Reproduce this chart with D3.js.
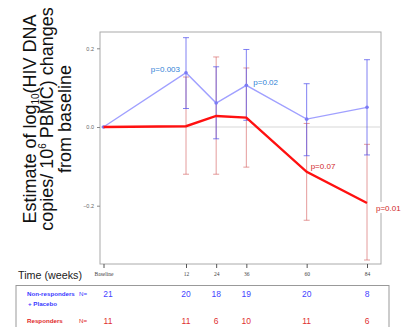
<!DOCTYPE html>
<html>
<head>
<meta charset="utf-8">
<script src="https://cdn.jsdelivr.net/npm/d3@7"></script>
<style>
  html, body { margin: 0; padding: 0; background: #fff; }
  svg { display: block; font-family: "Liberation Sans", Arial, sans-serif; }
</style>
</head>
<body>
<div id="chart"></div>
<script>
// time points (weeks), 0 = Baseline
const weeks = [0, 12, 24, 36, 60, 84];
const weekLabels = ["Baseline", "12", "24", "36", "60", "84"];

// non-responders + placebo
const blueMean = [0, 0.138, 0.061, 0.106, 0.020, 0.050];
const blueLow = [null, 0.047, -0.030, 0.017, -0.073, -0.071];
const blueHigh = [null, 0.227, 0.153, 0.197, 0.110, 0.171];
const blueN = ["21", "20", "18", "19", "20", "8"];

// responders
const redMean = [0, 0.002, 0.028, 0.024, -0.114, -0.193];
const redLow = [null, -0.120, -0.120, -0.102, -0.237, -0.338];
const redHigh = [null, 0.127, 0.178, 0.150, 0.009, -0.044];
const redN = ["11", "11", "6", "10", "11", "6"];

const yTicks = [0.2, 0.0, -0.2];

// p-value annotations
const pBlue = [{ i: 1, text: "p=0.003" }, { i: 3, text: "p=0.02" }];
const pRed = [{ i: 4, text: "p=0.07" }, { i: 5, text: "p=0.01" }];

const W = 401, H = 327;
const frame = { left: 100, right: 381, top: 32, bottom: 264 };

const svg = d3.select("#chart").append("svg")
  .attr("width", W).attr("height", H);

// baseline sits off to the left, not on the weekly scale
const x = d3.scaleLinear().domain([0, 12, 84]).range([103.5, 186, 367]);
const y = d3.scaleLinear().domain([-0.2, 0.2]).range([205.7, 48.3]);

// y axis title
const title = svg.append("text")
  .attr("transform", "translate(0,119) rotate(-90)")
  .attr("text-anchor", "middle")
  .attr("font-size", 18)
  .attr("fill", "#111");
const l1 = title.append("tspan").attr("x", 0).attr("y", 36).text("Estimate of log");
l1.append("tspan").attr("font-size", 10).attr("dy", 3).text("10");
l1.append("tspan").attr("dy", -3).text("(HIV DNA");
const l2 = title.append("tspan").attr("x", 0).attr("y", 53).text("copies/ 10");
l2.append("tspan").attr("font-size", 10).attr("dy", -7).text("6");
l2.append("tspan").attr("dy", 7).text(" PBMC) changes");
title.append("tspan").attr("x", 0).attr("y", 71).text("from baseline");

// frame
svg.append("rect")
  .attr("x", frame.left).attr("y", frame.top)
  .attr("width", frame.right - frame.left).attr("height", frame.bottom - frame.top)
  .attr("fill", "none").attr("stroke", "#aaa").attr("stroke-width", 1);

// zero reference line
svg.append("line")
  .attr("x1", frame.left).attr("x2", frame.right)
  .attr("y1", y(0)).attr("y2", y(0))
  .attr("stroke", "#d8d8d8").attr("stroke-width", 1.2);

// y axis
const yAxis = svg.append("g")
  .attr("transform", `translate(${frame.left},0)`)
  .call(d3.axisLeft(y).tickValues(yTicks).tickSize(3).tickFormat(d3.format(".1f")));
yAxis.select(".domain").remove();
yAxis.selectAll("line").attr("stroke", "#888");
yAxis.selectAll("text").attr("font-size", 5.5).attr("fill", "#666");

// x axis below the frame
const xAxis = svg.append("g")
  .attr("transform", `translate(0,${frame.bottom})`)
  .call(d3.axisBottom(x).tickValues(weeks).tickSize(4)
    .tickFormat((d, i) => weekLabels[i]));
xAxis.select(".domain").remove();
xAxis.selectAll("line").attr("stroke", "#555");
xAxis.selectAll("text").attr("font-size", 5.5).attr("fill", "#444")
  .attr("font-family", "Liberation Serif, serif").attr("dy", "0.9em");

svg.append("text")
  .attr("x", 18).attr("y", 279)
  .attr("font-size", 11.5).attr("fill", "#222")
  .attr("textLength", 64).attr("lengthAdjust", "spacingAndGlyphs")
  .text("Time (weeks)");

function errorBars(low, high, color, width, opacity) {
  const rows = weeks.map((w, i) => ({ w, lo: low[i], hi: high[i] }))
    .filter(d => d.lo != null);
  const g = svg.append("g").attr("stroke", color).attr("stroke-width", width)
    .attr("stroke-opacity", opacity);
  g.selectAll("line.v").data(rows).join("line").attr("class", "v")
    .attr("x1", d => x(d.w)).attr("x2", d => x(d.w))
    .attr("y1", d => y(d.lo)).attr("y2", d => y(d.hi));
  g.selectAll("line.lo").data(rows).join("line").attr("class", "lo")
    .attr("x1", d => x(d.w) - 3).attr("x2", d => x(d.w) + 3)
    .attr("y1", d => y(d.lo)).attr("y2", d => y(d.lo));
  g.selectAll("line.hi").data(rows).join("line").attr("class", "hi")
    .attr("x1", d => x(d.w) - 3).attr("x2", d => x(d.w) + 3)
    .attr("y1", d => y(d.hi)).attr("y2", d => y(d.hi));
}

const line = d3.line().x(d => x(d[0])).y(d => y(d[1]));

errorBars(redLow, redHigh, "#d45a5a", 1, 0.6);
errorBars(blueLow, blueHigh, "#5555ee", 1, 0.75);

svg.append("path")
  .datum(weeks.map((w, i) => [w, blueMean[i]]))
  .attr("d", line).attr("fill", "none")
  .attr("stroke", "#a0a0ff").attr("stroke-width", 1.4);

svg.selectAll("circle.blue").data(weeks).join("circle").attr("class", "blue")
  .attr("cx", (d) => x(d)).attr("cy", (d, i) => y(blueMean[i]))
  .attr("r", 1.8).attr("fill", "#7a7af5");

svg.append("path")
  .datum(weeks.map((w, i) => [w, redMean[i]]))
  .attr("d", line).attr("fill", "none")
  .attr("stroke", "#ff1010").attr("stroke-width", 2.4);

// p values
svg.append("text")
  .attr("x", x(weeks[pBlue[0].i]) - 6).attr("y", y(blueMean[pBlue[0].i]) - 0.5)
  .attr("text-anchor", "end").attr("font-size", 8).attr("fill", "#2f7fd6")
  .text(pBlue[0].text);
svg.append("text")
  .attr("x", x(weeks[pBlue[1].i]) + 7).attr("y", y(blueMean[pBlue[1].i]) - 0.5)
  .attr("font-size", 8).attr("fill", "#2f7fd6")
  .text(pBlue[1].text);

svg.append("text")
  .attr("x", x(weeks[pRed[0].i]) + 4).attr("y", y(redMean[pRed[0].i]) - 3)
  .attr("font-size", 8).attr("fill", "#d02828")
  .text(pRed[0].text);
const p01 = svg.append("g");
p01.append("rect")
  .attr("x", x(weeks[pRed[1].i]) + 8).attr("y", y(redMean[pRed[1].i]) - 1)
  .attr("width", 25).attr("height", 11).attr("fill", "#fff");
p01.append("text")
  .attr("x", x(weeks[pRed[1].i]) + 9).attr("y", y(redMean[pRed[1].i]) + 8)
  .attr("font-size", 8).attr("fill", "#d02828")
  .text(pRed[1].text);

// N table
svg.append("rect")
  .attr("x", 16).attr("y", 285.5).attr("width", 373).attr("height", 60)
  .attr("fill", "none").attr("stroke", "#999").attr("stroke-width", 1);

const tbl = svg.append("g").attr("font-size", 6.2).attr("font-weight", "bold");
tbl.append("text").attr("x", 27).attr("y", 296).attr("fill", "#3a3aff").text("Non-responders");
tbl.append("text").attr("x", 28).attr("y", 306).attr("fill", "#3a3aff").text("+ Placebo");
tbl.append("text").attr("x", 27).attr("y", 323).attr("fill", "#e02828").text("Responders");
tbl.append("text").attr("x", 79).attr("y", 296).attr("fill", "#3a3aff").attr("font-weight", "normal").text("N=");
tbl.append("text").attr("x", 79).attr("y", 323).attr("fill", "#e02828").attr("font-weight", "normal").text("N=");

const numX = d => x(d) + (d === 0 ? 4.5 : 0);
svg.selectAll("text.nb").data(weeks).join("text").attr("class", "nb")
  .attr("x", numX).attr("y", 297).attr("text-anchor", "middle")
  .attr("font-size", 8.5).attr("fill", "#4444ff")
  .text((d, i) => blueN[i]);
svg.selectAll("text.nr").data(weeks).join("text").attr("class", "nr")
  .attr("x", numX).attr("y", 324).attr("text-anchor", "middle")
  .attr("font-size", 8.5).attr("fill", "#e03030")
  .text((d, i) => redN[i]);
</script>
</body>
</html>
